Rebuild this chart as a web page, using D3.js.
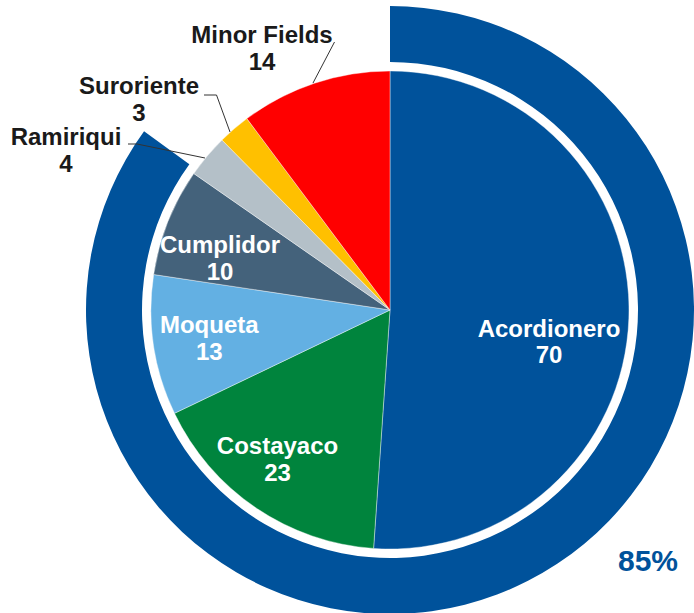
<!DOCTYPE html>
<html><head><meta charset="utf-8">
<script src="https://cdn.jsdelivr.net/npm/d3@7"></script>
<style>body{margin:0;background:#fff}svg{display:block}text{font-family:"Liberation Sans",Arial,sans-serif;font-weight:bold}</style>
</head><body>
<svg id="c" width="694" height="613"></svg>
<script>
const categories = ["Acordionero","Costayaco","Moqueta","Cumplidor","Ramiriqui","Suroriente","Minor Fields"];
const values = [70,23,13,10,4,3,14];
const colors = ["#00529B","#00843D","#63B0E3","#44627B","#B4C0C8","#FFC000","#FF0000"];
const ringPercent = 85;
const ringLabel = "85%";

const svg = d3.select("#c");
const cx = 390, cy = 310, r = 239;
const g = svg.append("g").attr("transform",`translate(${cx},${cy})`);

// outer ring
const ringArc = d3.arc().innerRadius(248).outerRadius(304).startAngle(0).endAngle(2*Math.PI*ringPercent/100);
g.append("path").attr("d", ringArc()).attr("fill","#00529B");

const pie = d3.pie().sort(null).value(d=>d);
const arcs = pie(values);
const arc = d3.arc().innerRadius(0).outerRadius(r);
g.selectAll("path.s").data(arcs).enter().append("path").attr("class","s")
  .attr("d",arc).attr("fill",(d,i)=>colors[i]).attr("stroke","#fff").attr("stroke-width",0.4);

// label placements (offsets relative to center; baseline of first line)
const inside = {0:[159,26.5],1:[-112.5,144],2:[-180.7,23.3],3:[-170,-56.7]};
const outside = {6:[-128,-266.7],5:[-251,-216],4:[-324,-165]};
const lab = svg.append("g");
arcs.forEach((d,i)=>{
  let p, fill;
  if (inside[i]) { p = inside[i]; fill = "#fff"; }
  else { p = outside[i]; fill = "#1a1a1a"; }
  const t = lab.append("text").attr("text-anchor","middle").attr("fill",fill).attr("font-size",24)
    .attr("x",cx+p[0]).attr("y",cy+p[1]);
  t.append("tspan").attr("x",cx+p[0]).attr("dy",0).text(categories[i]);
  t.append("tspan").attr("x",cx+p[0]).attr("dy",26.7).text(values[i]);
});

// leader lines
const leaders = [
  [[334.5,42],[313,83]],
  [[204,95],[216.5,95],[230,132]],
  [[128,144],[137,144],[205,158]]
];
leaders.forEach(pts=>{
  svg.append("path").attr("d",d3.line()(pts)).attr("fill","none").attr("stroke","#333").attr("stroke-width",1);
});

svg.append("text").attr("x",648).attr("y",571).attr("text-anchor","middle")
  .attr("font-size",30).attr("fill","#00529B").text(ringLabel);
</script>
</body></html>
